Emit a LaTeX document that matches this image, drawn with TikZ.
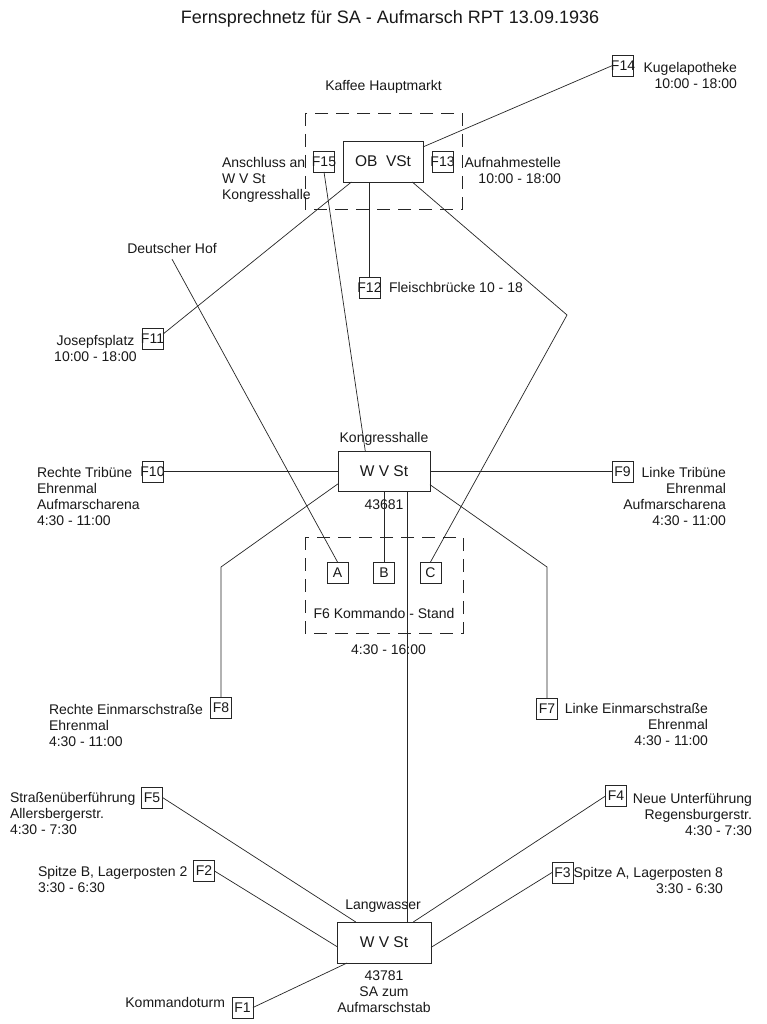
\documentclass[tikz,border=0pt]{standalone}
\usepackage{fontspec}
\setmainfont{Liberation Sans}
\usetikzlibrary{calc}
\begin{document}
\begin{tikzpicture}[x=1pt,y=-1pt,
  every node/.style={inner sep=0pt, outer sep=0pt, text=black!90, font=\fontsize{14}{16}\selectfont},
  line/.style={draw=black!85, line width=0.7pt},
  fbox/.style={draw=black!85, line width=0.7pt, minimum width=21pt, minimum height=21pt},
  station/.style={draw=black!85, line width=0.7pt, font=\fontsize{15.5}{18}\selectfont},
  area/.style={draw=black!85, line width=0.7pt, dash pattern=on 13pt off 8pt},
]
\fill[white] (0,0) rectangle (767,1024);
\useasboundingbox (0,0) rectangle (767,1024);

% dashed areas
\draw[area] (305,113) rectangle (462,209);
\draw[area] (305,537) rectangle (463,633);

% stations
\node[station, minimum width=80pt, minimum height=41pt] (ob) at (383,161.5) {OB~~VSt};
\node[station, minimum width=92pt, minimum height=40pt] (kh) at (384,471.5) {W V St};
\node[station, minimum width=94pt, minimum height=41pt] (lw) at (384,942.5) {W V St};

% telephone boxes
\node[fbox] (f15) at (324,161.5) {\makebox[0pt]{F15}};
\node[fbox] (f13) at (442.5,161.5) {\makebox[0pt]{F13}};
\node[fbox] (f14) at (623,65.5) {\makebox[0pt]{F14}};
\node[fbox] (f12) at (369.5,287.5) {\makebox[0pt]{F12}};
\node[fbox] (f11) at (152.5,339) {\makebox[0pt]{F11}};
\node[fbox] (f10) at (152.5,471.5) {\makebox[0pt]{F10}};
\node[fbox] (f9) at (622.5,471.5) {\makebox[0pt]{F9}};
\node[fbox] (f8) at (221,708) {\makebox[0pt]{F8}};
\node[fbox] (f7) at (547,708.5) {\makebox[0pt]{F7}};
\node[fbox] (f5) at (152,797.5) {\makebox[0pt]{F5}};
\node[fbox] (f4) at (616,796) {\makebox[0pt]{F4}};
\node[fbox] (f2) at (204,871) {\makebox[0pt]{F2}};
\node[fbox] (f3) at (562.5,872.5) {\makebox[0pt]{F3}};
\node[fbox] (f1) at (242.5,1007.5) {\makebox[0pt]{F1}};
\node[fbox] (a) at (337.5,572.5) {A};
\node[fbox] (b) at (384,572.5) {B};
\node[fbox] (c) at (430.5,572.5) {C};

% texts
\node[anchor=base, font=\fontsize{18}{22}\selectfont] (title) at (390,24) {Fernsprechnetz für SA - Aufmarsch RPT 13.09.1936};
\node[anchor=base] (kaffee) at (383.5,91) {Kaffee Hauptmarkt};
\node[anchor=north west, align=left] (l15) at (222,157) {Anschluss an\\W V St\\Kongresshalle};
\node[anchor=north east, align=right] (l13) at (561,157) {Aufnahmestelle\\10:00 - 18:00};
\node[anchor=base west] (l12) at (389,292) {Fleischbrücke 10 - 18};
\node[anchor=north east, align=right] (l14) at (737,62) {Kugelapotheke\\10:00 - 18:00};
\node[anchor=base, inner ysep=6pt] (dh) at (172,253) {Deutscher Hof};
\node[anchor=north, align=center] (l11) at (95.5,335) {Josepfsplatz\\10:00 - 18:00};
\node[anchor=north west, align=left] (l10) at (37,467) {Rechte Tribüne\\Ehrenmal\\Aufmarscharena\\4:30 - 11:00};
\node[anchor=north east, align=right] (l9) at (726,467) {Linke Tribüne\\Ehrenmal\\Aufmarscharena\\4:30 - 11:00};
\node[anchor=base] (khl) at (384,442) {Kongresshalle};
\node[anchor=base] (khn) at (384,509) {43681};
\node[anchor=base] (f6) at (384,618) {F6 Kommando - Stand};
\node[anchor=base] (f6t) at (388.5,654) {4:30 - 16:00};
\node[anchor=north west, align=left] (l8) at (49,704) {Rechte Einmarschstraße\\Ehrenmal\\4:30 - 11:00};
\node[anchor=north east, align=right] (l7) at (708,703) {Linke Einmarschstraße\\Ehrenmal\\4:30 - 11:00};
\node[anchor=north west, align=left] (l5) at (10,792) {Straßenüberführung\\Allersbergerstr.\\4:30 - 7:30};
\node[anchor=north west, align=left] (l2) at (38,866) {Spitze B, Lagerposten 2\\3:30 - 6:30};
\node[anchor=north east, align=right] (l4) at (752,793) {Neue Unterführung\\Regensburgerstr.\\4:30 - 7:30};
\node[anchor=north east, align=right] (l3) at (723,867) {Spitze A, Lagerposten 8\\3:30 - 6:30};
\node[anchor=base east] (l1) at (225,1007) {Kommandoturm};
\node[anchor=base] (lwl) at (383,909) {Langwasser};
\node[anchor=north, align=center] (lwn) at (384,971) {43781\\SA zum\\Aufmarschstab};

% corner points
\coordinate (cC) at (567,315);
\coordinate (cL) at (221,567);
\coordinate (cR) at (547,567);

% connectors
\draw[line] (ob.20) -- (f14.west);
\draw[line] (ob.213.5) -- (f11.25);
\draw[line] (f15.south) -- (kh.133.5);
\draw[line] (f12.north) -- (f12.north |- ob.south);
\draw[line] (ob.325.7) -- (cC) -- (c.north);
\draw[line] (dh.south) -- (a.north);
\draw[line] (f10.east) -- (kh.west);
\draw[line] (kh.east) -- (f9.west);
\draw[line] (kh.195.8) -- (cL) -- (f8.north);
\draw[line] (kh.344.2) -- (cR) -- (f7.north);
\draw[line] (kh.south) -- (b.north);
\draw[line] (kh.-41) -- (kh.-41 |- lw.north);
\draw[line] (f5.east) -- (lw.144.7);
\draw[line] (f2.east) -- (lw.185.5);
\draw[line] (f1.east) -- (lw.209.7);
\draw[line] (f4.west) -- (lw.35.3);
\draw[line] (f3.west) -- (lw.354.5);
\end{tikzpicture}
\end{document}
